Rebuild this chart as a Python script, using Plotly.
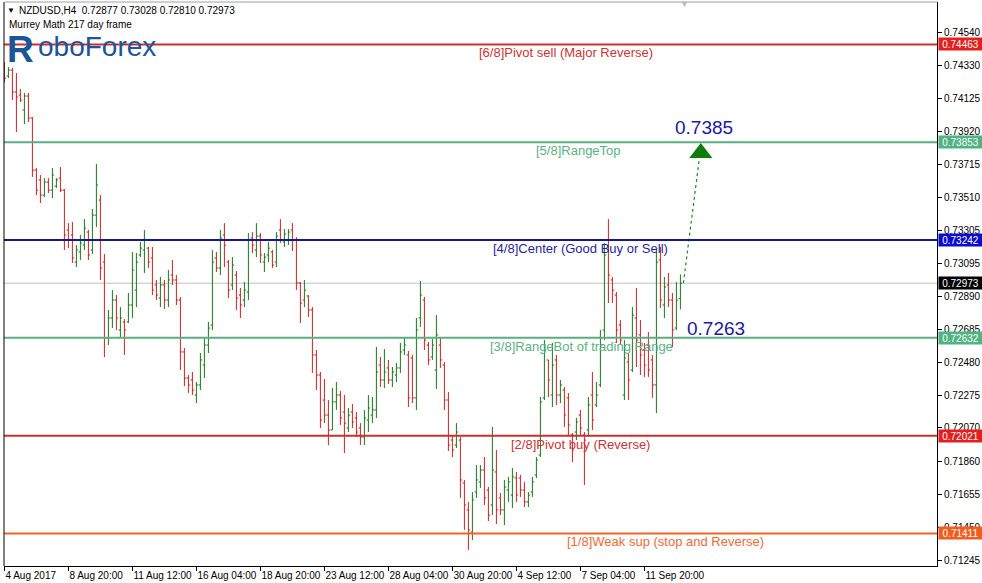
import plotly.graph_objects as go

# ---------------- data (NZDUSD H4) ----------------
opens = [
0.74341, 0.74266, 0.74303, 0.74166, 0.74147, 0.74054, 0.74141, 0.74004, 0.73679, 0.73617,
0.73523, 0.73604, 0.73554, 0.73579, 0.73629, 0.73554, 0.73305, 0.73274, 0.73105, 0.73168,
0.73211, 0.73292, 0.73180, 0.73398, 0.73492, 0.73105, 0.72631, 0.72756, 0.72868, 0.72681,
0.72731, 0.72731, 0.72837, 0.72930, 0.73149, 0.73180, 0.73192, 0.73130, 0.72962, 0.72880,
0.72962, 0.72868, 0.73024, 0.72993, 0.72868, 0.72544, 0.72381, 0.72369, 0.72275, 0.72338,
0.72462, 0.72587, 0.72712, 0.73130, 0.73068, 0.73274, 0.73105, 0.72962, 0.73024, 0.72899,
0.72868, 0.72918, 0.73255, 0.73180, 0.73267, 0.73105, 0.73149, 0.73168, 0.73105, 0.73305,
0.73230, 0.73242, 0.73305, 0.73242, 0.72974, 0.72868, 0.72893, 0.72806, 0.72525, 0.72400,
0.72244, 0.72150, 0.72057, 0.72232, 0.72275, 0.72169, 0.72069, 0.72169, 0.72132, 0.72069,
0.72013, 0.72119, 0.72150, 0.72182, 0.72462, 0.72369, 0.72444, 0.72369, 0.72400, 0.72444,
0.72556, 0.72525, 0.72506, 0.72257, 0.72756, 0.72868, 0.72587, 0.72512, 0.72431, 0.72587,
0.72462, 0.72244, 0.71994, 0.71963, 0.71994, 0.71726, 0.71558, 0.71420, 0.71670, 0.71732,
0.71807, 0.71682, 0.71589, 0.71795, 0.71633, 0.71558, 0.71682, 0.71651, 0.71757, 0.71757,
0.71682, 0.71608, 0.71670, 0.71776, 0.71901, 0.72257, 0.72494, 0.72275, 0.72494, 0.72275,
0.72306, 0.72257, 0.72026, 0.72044, 0.72150, 0.72026, 0.72057, 0.72275, 0.72213, 0.72338,
0.72681, 0.73242, 0.72993, 0.72899, 0.72712, 0.72275, 0.72481, 0.72431, 0.72756, 0.72650,
0.72556, 0.72587, 0.72494, 0.72338, 0.73118, 0.72837, 0.72962, 0.72868, 0.72693, 0.72877]

highs = [
0.74353, 0.74322, 0.74316, 0.74285, 0.74185, 0.74160, 0.74160, 0.74010, 0.73692, 0.73648,
0.73629, 0.73629, 0.73692, 0.73629, 0.73698, 0.73561, 0.73348, 0.73355, 0.73211, 0.73274,
0.73373, 0.73305, 0.73436, 0.73717, 0.73523, 0.73155, 0.72806, 0.72930, 0.72899, 0.72824,
0.72749, 0.72912, 0.73168, 0.73161, 0.73230, 0.73305, 0.73199, 0.73199, 0.72993, 0.73012,
0.72993, 0.73055, 0.73118, 0.73024, 0.72887, 0.72569, 0.72400, 0.72419, 0.72356, 0.72537,
0.72637, 0.72731, 0.73180, 0.73168, 0.73305, 0.73348, 0.73118, 0.73136, 0.73049, 0.72943,
0.72980, 0.73286, 0.73292, 0.73348, 0.73286, 0.73161, 0.73230, 0.73180, 0.73292, 0.73373,
0.73311, 0.73311, 0.73348, 0.73261, 0.72980, 0.72993, 0.72899, 0.72824, 0.72556, 0.72419,
0.72375, 0.72244, 0.72319, 0.72356, 0.72300, 0.72275, 0.72194, 0.72219, 0.72169, 0.72100,
0.72182, 0.72275, 0.72263, 0.72575, 0.72512, 0.72562, 0.72494, 0.72450, 0.72475, 0.72600,
0.72631, 0.72550, 0.72525, 0.72756, 0.72987, 0.72887, 0.72606, 0.72625, 0.72774, 0.72631,
0.72481, 0.72294, 0.72019, 0.72100, 0.72013, 0.71745, 0.71608, 0.71670, 0.71838, 0.71838,
0.71888, 0.71701, 0.72076, 0.71932, 0.71664, 0.71745, 0.71764, 0.71820, 0.71795, 0.71776,
0.71732, 0.71670, 0.71764, 0.71888, 0.72263, 0.72618, 0.72494, 0.72600, 0.72525, 0.72369,
0.72325, 0.72288, 0.72038, 0.72132, 0.72182, 0.72044, 0.72263, 0.72419, 0.72356, 0.72681,
0.73224, 0.73373, 0.73012, 0.72918, 0.72743, 0.72618, 0.72537, 0.72824, 0.72943, 0.72743,
0.72600, 0.72668, 0.72525, 0.73180, 0.73199, 0.73012, 0.73037, 0.72912, 0.72980, 0.73028]

lows = [
0.74228, 0.74253, 0.74116, 0.73916, 0.74104, 0.73966, 0.73979, 0.73636, 0.73523, 0.73473,
0.73511, 0.73536, 0.73504, 0.73567, 0.73542, 0.73180, 0.73192, 0.73099, 0.73074, 0.73118,
0.73180, 0.73118, 0.73155, 0.73324, 0.72993, 0.72512, 0.72587, 0.72693, 0.72681, 0.72631,
0.72525, 0.72725, 0.72756, 0.72824, 0.73136, 0.73037, 0.73068, 0.72899, 0.72868, 0.72824,
0.72812, 0.72824, 0.72962, 0.72837, 0.72431, 0.72331, 0.72288, 0.72275, 0.72225, 0.72306,
0.72381, 0.72537, 0.72681, 0.73043, 0.73024, 0.73074, 0.72880, 0.72930, 0.72806, 0.72756,
0.72824, 0.72868, 0.73161, 0.73136, 0.73099, 0.73043, 0.73105, 0.73068, 0.73074, 0.73224,
0.73199, 0.73211, 0.73174, 0.72930, 0.72725, 0.72824, 0.72762, 0.72413, 0.72306, 0.72069,
0.72100, 0.71963, 0.72057, 0.72182, 0.72088, 0.71913, 0.72044, 0.72069, 0.72013, 0.71963,
0.71963, 0.72044, 0.72100, 0.72132, 0.72325, 0.72319, 0.72344, 0.72325, 0.72356, 0.72413,
0.72525, 0.72200, 0.72225, 0.72182, 0.72700, 0.72556, 0.72462, 0.72494, 0.72313, 0.72444,
0.72182, 0.71926, 0.71888, 0.71944, 0.71633, 0.71433, 0.71308, 0.71370, 0.71633, 0.71695,
0.71589, 0.71489, 0.71526, 0.71470, 0.71526, 0.71464, 0.71608, 0.71570, 0.71608, 0.71639,
0.71576, 0.71576, 0.71639, 0.71757, 0.71888, 0.72244, 0.72263, 0.72200, 0.72213, 0.72225,
0.72076, 0.72026, 0.71857, 0.71994, 0.72026, 0.71714, 0.72013, 0.72057, 0.72200, 0.72325,
0.72618, 0.72849, 0.72849, 0.72600, 0.72587, 0.72244, 0.72244, 0.72419, 0.72450, 0.72400,
0.72388, 0.72388, 0.72257, 0.72163, 0.72818, 0.72756, 0.72824, 0.72575, 0.72681, 0.72810]

closes = [
0.74253, 0.74303, 0.74166, 0.74135, 0.74116, 0.74141, 0.74004, 0.73679, 0.73554, 0.73523,
0.73604, 0.73554, 0.73648, 0.73617, 0.73554, 0.73274, 0.73242, 0.73130, 0.73180, 0.73224,
0.73317, 0.73149, 0.73398, 0.73586, 0.73068, 0.72631, 0.72756, 0.72868, 0.72756, 0.72756,
0.72681, 0.72837, 0.73055, 0.73105, 0.73192, 0.73242, 0.73105, 0.72930, 0.72899, 0.72962,
0.72868, 0.72993, 0.72993, 0.72868, 0.72544, 0.72381, 0.72338, 0.72306, 0.72338, 0.72494,
0.72587, 0.72693, 0.73105, 0.73068, 0.73255, 0.73211, 0.72930, 0.73086, 0.72880, 0.72837,
0.72930, 0.73242, 0.73211, 0.73267, 0.73149, 0.73136, 0.73192, 0.73086, 0.73267, 0.73242,
0.73280, 0.73292, 0.73242, 0.72974, 0.72849, 0.72930, 0.72806, 0.72525, 0.72400, 0.72119,
0.72150, 0.72057, 0.72232, 0.72275, 0.72132, 0.72100, 0.72150, 0.72107, 0.72044, 0.72013,
0.72132, 0.72194, 0.72182, 0.72419, 0.72369, 0.72419, 0.72369, 0.72419, 0.72444, 0.72544,
0.72587, 0.72257, 0.72257, 0.72681, 0.72899, 0.72618, 0.72494, 0.72587, 0.72650, 0.72494,
0.72244, 0.71963, 0.71932, 0.72044, 0.71745, 0.71589, 0.71433, 0.71620, 0.71745, 0.71807,
0.71633, 0.71526, 0.71807, 0.71558, 0.71558, 0.71701, 0.71732, 0.71764, 0.71651, 0.71682,
0.71608, 0.71651, 0.71732, 0.71870, 0.72232, 0.72556, 0.72369, 0.72462, 0.72275, 0.72338,
0.72150, 0.72088, 0.71932, 0.72107, 0.72069, 0.71994, 0.72213, 0.72119, 0.72275, 0.72587,
0.73149, 0.73024, 0.72930, 0.72681, 0.72618, 0.72506, 0.72369, 0.72774, 0.72618, 0.72525,
0.72462, 0.72431, 0.72338, 0.73105, 0.72868, 0.72949, 0.72868, 0.72681, 0.72868, 0.72973]

bar_index = list(range(len(closes)))

date_tick_bars = [0, 16, 32, 48, 64, 80, 96, 112, 128, 144, 160]
date_tick_labels = ["4 Aug 2017", "8 Aug 20:00", "11 Aug 12:00", "16 Aug 04:00",
                    "18 Aug 20:00", "23 Aug 12:00", "28 Aug 04:00", "30 Aug 20:00",
                    "4 Sep 12:00", "7 Sep 04:00", "11 Sep 20:00"]

price_ticks = [0.74540, 0.74330, 0.74125, 0.73920, 0.73715, 0.73510, 0.73305, 0.73095,
               0.72890, 0.72685, 0.72480, 0.72275, 0.72070, 0.71860, 0.71655, 0.71450, 0.71245]

# Murrey Math levels
level_names = ["[6/8]Pivot sell (Major Reverse)", "[5/8]RangeTop",
               "[4/8]Center (Good Buy or Sell)", "[3/8]RangeBot of trading Range",
               "[2/8]Pivot buy (Reverse)", "[1/8]Weak sup (stop and Reverse)"]
level_values = [0.74463, 0.73853, 0.73242, 0.72632, 0.72021, 0.71411]

target_up = 0.7385
target_down = 0.7263
arrow_end_price = 0.73754
arrow_marker_price = 0.73785

# ---------------- styling ----------------
FONT = "Liberation Sans, Arial, sans-serif"
level_line_colors = ["#cc2f2f", "#5aae82", "#17178a", "#5aae82", "#cc2f2f", "#f26522"]
level_text_colors = ["#cc3333", "#5cb085", "#1f1fa0", "#5cb085", "#cc3333", "#ee6a35"]
level_box_colors = ["#e3201d", "#4fb383", "#0c0cd0", "#4fb383", "#e3201d", "#f25c1e"]
level_text_x = [566, 578, 580, 581, 580, 665]

W, H = 982, 583
L, R, T, B = 4, 45, 2, 17
PW, PH = W - L - R, H - T - B


def pxx(px):
    return (px - L) / PW


def pxy(py):
    return 1 - (py - T) / PH


fig = go.Figure()

fig.add_trace(go.Ohlc(
    x=bar_index, open=opens, high=highs, low=lows, close=closes,
    increasing=dict(line=dict(color="#1a7a1a", width=1)),
    decreasing=dict(line=dict(color="#cc2222", width=1)),
    tickwidth=0.45, hoverinfo="skip", showlegend=False))

shapes = []
annotations = []

# current price line
last_close = closes[-1]
shapes.append(dict(type="line", xref="paper", x0=0, x1=1, yref="y", y0=last_close, y1=last_close,
                   line=dict(color="#c0c0c0", width=1), layer="below"))

for name, val, lc, tc, bc, tx in zip(level_names, level_values, level_line_colors,
                                     level_text_colors, level_box_colors, level_text_x):
    shapes.append(dict(type="line", xref="paper", x0=0, x1=1, yref="y", y0=val, y1=val,
                       line=dict(color=lc, width=2)))
    annotations.append(dict(text=name, xref="paper", x=pxx(tx), yref="y", y=val,
                            xanchor="center", yanchor="top", yshift=1, showarrow=False,
                            font=dict(family=FONT, size=13, color=tc)))
    annotations.append(dict(text=f"{val:.5f}", xref="paper", x=1, xshift=1, yref="y", y=val,
                            xanchor="left", yanchor="middle", showarrow=False,
                            bgcolor=bc, width=43, height=12, borderpad=0,
                            font=dict(family=FONT, size=10, color="white")))

# current price box
annotations.append(dict(text=f"{last_close:.5f}", xref="paper", x=1, xshift=1, yref="y", y=last_close,
                        xanchor="left", yanchor="middle", showarrow=False,
                        bgcolor="#000000", width=43, height=12, borderpad=0,
                        font=dict(family=FONT, size=10, color="white")))

# forecast targets
annotations.append(dict(text=f"{target_up:.4f}", xref="paper", x=pxx(704), yref="paper", y=pxy(128),
                        xanchor="center", yanchor="middle", showarrow=False,
                        font=dict(family=FONT, size=19, color="#1a1a9a")))
annotations.append(dict(text=f"{target_down:.4f}", xref="paper", x=pxx(716), yref="paper", y=pxy(328),
                        xanchor="center", yanchor="middle", showarrow=False,
                        font=dict(family=FONT, size=19, color="#1a1a9a")))

fig.add_trace(go.Scatter(x=[bar_index[-1] + 0.75, bar_index[-1] + 4.75], y=[last_close, arrow_end_price],
                         mode="lines", line=dict(color="#1a8c1a", width=1.2, dash="dot"),
                         hoverinfo="skip", showlegend=False))
fig.add_trace(go.Scatter(x=[bar_index[-1] + 5.1], y=[arrow_marker_price], mode="markers",
                         marker=dict(symbol="triangle-up", size=20, color="#0e7d0e"),
                         hoverinfo="skip", showlegend=False))

# header
annotations.append(dict(text="▼", xref="paper", x=pxx(5), yref="paper", y=pxy(11),
                        xanchor="left", yanchor="middle", showarrow=False,
                        font=dict(family=FONT, size=8, color="black")))
annotations.append(dict(text=f"NZDUSD,H4  {opens[-1]:.5f} {highs[-1]:.5f} {lows[-1]:.5f} {closes[-1]:.5f}",
                        xref="paper", x=pxx(17), yref="paper", y=pxy(11),
                        xanchor="left", yanchor="middle", showarrow=False,
                        font=dict(family=FONT, size=10, color="black")))
annotations.append(dict(text="Murrey Math 217 day frame", xref="paper", x=pxx(7), yref="paper", y=pxy(24),
                        xanchor="left", yanchor="middle", showarrow=False,
                        font=dict(family=FONT, size=10, color="black")))
# logo
annotations.append(dict(text="<b>R</b>", xref="paper", x=pxx(20), yref="paper", y=pxy(49),
                        xanchor="center", yanchor="middle", showarrow=False,
                        font=dict(family=FONT, size=37, color="#1c5598")))
annotations.append(dict(text="oboForex", xref="paper", x=pxx(36), yref="paper", y=pxy(47),
                        xanchor="left", yanchor="middle", showarrow=False,
                        font=dict(family=FONT, size=28, color="#1c5598")))
# chart shift marker
annotations.append(dict(text="▼", xref="paper", x=pxx(684), yref="paper", y=pxy(4),
                        xanchor="center", yanchor="middle", showarrow=False,
                        font=dict(family=FONT, size=9, color="#b8b8b8")))

# frame lines (left black, top gray)
shapes.append(dict(type="line", xref="paper", yref="paper", x0=0, x1=0, y0=0, y1=1,
                   line=dict(color="black", width=1)))
shapes.append(dict(type="line", xref="paper", yref="paper", x0=0, x1=1, y0=1, y1=1,
                   line=dict(color="#a0a0a0", width=1)))

fig.update_layout(
    width=W, height=H, autosize=False,
    margin=dict(l=L, r=R, t=T, b=B, autoexpand=False),
    paper_bgcolor="white", plot_bgcolor="white",
    showlegend=False,
    shapes=shapes, annotations=annotations,
    font=dict(family=FONT, size=10, color="black"),
    xaxis=dict(range=[-0.1, 233.15], tickmode="array", tickvals=date_tick_bars,
               ticktext=date_tick_labels, ticks="outside", ticklen=4, tickcolor="black",
               ticklabelposition="outside right", tickangle=0, automargin=False,
               showline=True, linecolor="black", linewidth=1, showgrid=False, zeroline=False,
               tickfont=dict(family=FONT, size=10, color="black"),
               rangeslider=dict(visible=False), fixedrange=True),
    yaxis=dict(side="right", range=[0.71208, 0.74728], tickmode="array", tickvals=price_ticks,
               ticktext=[f"{p:.5f}" for p in price_ticks], ticks="outside", ticklen=4,
               tickcolor="black", showline=True, linecolor="black", linewidth=1,
               showgrid=False, zeroline=False, automargin=False,
               tickfont=dict(family=FONT, size=10, color="black"), fixedrange=True),
)

fig.write_html("out.html", config={"displayModeBar": False},
               post_script="document.body.style.margin='0';document.body.style.padding='0';")
